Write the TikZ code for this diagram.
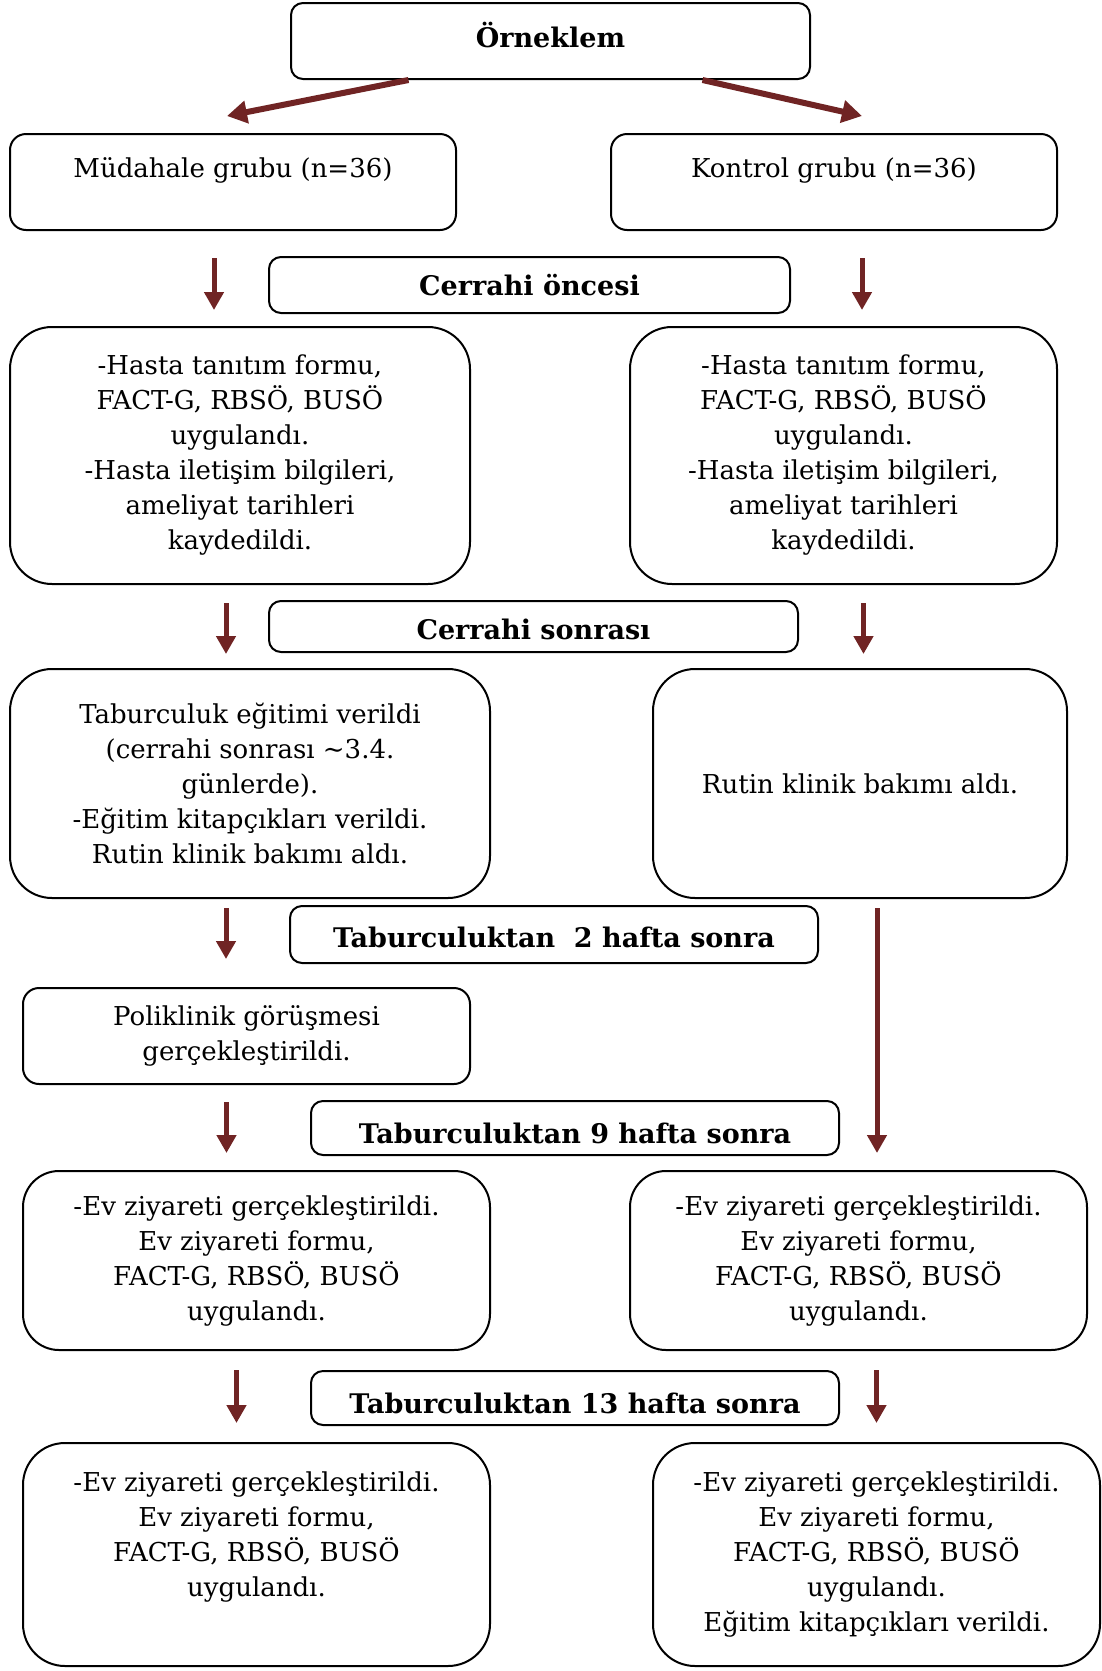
\documentclass[tikz,border=0pt]{standalone}
\usepackage{fontspec}
\setmainfont{DejaVu Serif}
\usetikzlibrary{arrows.meta}
\definecolor{arrowred}{RGB}{112,36,36}
\begin{document}
\begin{tikzpicture}[
    x=1pt, y=-1pt,
    every node/.style={font=\fontsize{26pt}{35pt}\selectfont},
    phase/.style={rectangle,draw=black,line width=2pt,rounded corners=12pt,font=\fontsize{27pt}{35pt}\selectfont\bfseries},
    grp/.style={rectangle,draw=black,line width=2pt,rounded corners=16pt,align=center},
    info/.style={rectangle,draw=black,line width=2pt,rounded corners=42pt,align=center},
    arrow/.style={-{Triangle[length=18pt,width=19pt]}, line width=5pt, draw=arrowred},
    fatarrow/.style={-{Triangle[length=20pt,width=22pt]}, line width=6pt, draw=arrowred}
]
\useasboundingbox (0,0) rectangle (1101,1671);

\node[phase, minimum width=519pt, minimum height=76pt] (orn) at (550.5,41) {\raisebox{6pt}[\height][\depth]{Örneklem}};

\node[grp, minimum width=446pt, minimum height=96pt] (mud) at (233,182)
  {\parbox[c][48pt][t]{420pt}{\centering Müdahale grubu (n=36)}};
\node[grp, minimum width=446pt, minimum height=96pt] (kon) at (834,182)
  {\parbox[c][48pt][t]{420pt}{\centering Kontrol grubu (n=36)}};

\node[phase, minimum width=521pt, minimum height=56pt] (pre) at (529.5,285) {Cerrahi öncesi};

\node[info, minimum width=460pt, minimum height=257pt] (l2) at (240,455.5)
  {-Hasta tanıtım formu,\\FACT-G, RBSÖ, BUSÖ\\uygulandı.\\-Hasta iletişim bilgileri,\\ameliyat tarihleri\\kaydedildi.};
\node[info, minimum width=427pt, minimum height=257pt] (r2) at (843.5,455.5)
  {-Hasta tanıtım formu,\\FACT-G, RBSÖ, BUSÖ\\uygulandı.\\-Hasta iletişim bilgileri,\\ameliyat tarihleri\\kaydedildi.};

\node[phase, minimum width=529pt, minimum height=51pt] (post) at (533.5,626.5) {\raisebox{-3pt}[\height][\depth]{Cerrahi sonrası}};

\node[info, minimum width=480pt, minimum height=229pt] (l3) at (250,783.5)
  {Taburculuk eğitimi verildi\\(cerrahi sonrası \textasciitilde3.4.\\günlerde).\\-Eğitim kitapçıkları verildi.\\Rutin klinik bakımı aldı.};
\node[info, minimum width=414pt, minimum height=229pt] (r3) at (860,783.5) {Rutin klinik bakımı aldı.};

\node[phase, minimum width=528pt, minimum height=57pt] (tab2) at (554,934.5) {\raisebox{-3pt}[\height][\depth]{Taburculuktan\ \ 2 hafta sonra}};

\node[grp, minimum width=447pt, minimum height=96pt] (pol) at (246.5,1036)
  {Poliklinik görüşmesi\\gerçekleştirildi.};

\node[phase, minimum width=528pt, minimum height=54pt] (tab9) at (575,1128) {\raisebox{-5pt}[\height][\depth]{Taburculuktan 9 hafta sonra}};

\node[info, rounded corners=36pt, minimum width=467pt, minimum height=179pt] (l5) at (256.5,1260.5)
  {-Ev ziyareti gerçekleştirildi.\\Ev ziyareti formu,\\FACT-G, RBSÖ, BUSÖ\\uygulandı.};
\node[info, rounded corners=36pt, minimum width=457pt, minimum height=179pt] (r5) at (858.5,1260.5)
  {-Ev ziyareti gerçekleştirildi.\\Ev ziyareti formu,\\FACT-G, RBSÖ, BUSÖ\\uygulandı.};

\node[phase, minimum width=528pt, minimum height=54pt] (tab13) at (575,1398) {\raisebox{-5pt}[\height][\depth]{Taburculuktan 13 hafta sonra}};

\node[info, minimum width=467pt, minimum height=223pt] (l6) at (256.5,1554.5)
  {\parbox[c][166pt][t]{440pt}{\centering -Ev ziyareti gerçekleştirildi.\\Ev ziyareti formu,\\FACT-G, RBSÖ, BUSÖ\\uygulandı.}};
\node[info, minimum width=447pt, minimum height=223pt] (r6) at (876.5,1554.5)
  {-Ev ziyareti gerçekleştirildi.\\Ev ziyareti formu,\\FACT-G, RBSÖ, BUSÖ\\uygulandı.\\Eğitim kitapçıkları verildi.};

\draw[fatarrow] ([xshift=-142pt]orn.south) -- ([xshift=-6pt,yshift=17pt]mud.north);
\draw[fatarrow] ([xshift=152pt]orn.south) -- ([xshift=28pt,yshift=17pt]kon.north);

\draw[arrow, shorten <=27pt, shorten >=16pt] ([xshift=-19pt]mud.south) -- ([xshift=-19pt]mud.south |- l2.north);
\draw[arrow, shorten <=27pt, shorten >=16pt] ([xshift=28pt]kon.south) -- ([xshift=28pt]kon.south |- r2.north);

\draw[arrow, shorten <=18pt, shorten >=14pt] ([xshift=-14pt]l2.south) -- ([xshift=-14pt]l2.south |- l3.north);
\draw[arrow, shorten <=18pt, shorten >=14pt] ([xshift=20pt]r2.south) -- ([xshift=20pt]r2.south |- r3.north);

\draw[arrow, shorten <=9pt, shorten >=28pt] ([xshift=-24pt]l3.south) -- ([xshift=-24pt]l3.south |- pol.north);
\draw[arrow, shorten <=9pt, shorten >=17pt] ([xshift=17pt]r3.south) -- ([xshift=17pt]r3.south |- r5.north);

\draw[arrow, shorten <=17pt, shorten >=17pt] ([xshift=-20pt]pol.south) -- ([xshift=-20pt]pol.south |- l5.north);

\draw[arrow, shorten <=19pt, shorten >=19pt] ([xshift=-20pt]l5.south) -- ([xshift=-20pt]l5.south |- l6.north);
\draw[arrow, shorten <=19pt, shorten >=19pt] ([xshift=18pt]r5.south) -- ([xshift=18pt]r5.south |- r6.north);

\end{tikzpicture}
\end{document}
